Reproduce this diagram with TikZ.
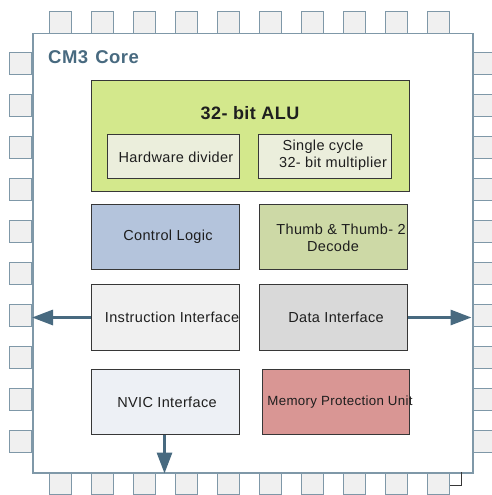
\documentclass[tikz,border=0pt]{standalone}
\usepackage{fontspec}
\setmainfont[LetterSpace=2.5]{Liberation Sans}
\usetikzlibrary{arrows.meta}
\definecolor{pinedge}{RGB}{127,152,168}
\definecolor{pinfill}{RGB}{240,240,240}
\definecolor{slate}{RGB}{72,106,128}
\definecolor{alugreen}{RGB}{211,232,140}
\definecolor{aluinner}{RGB}{235,238,220}
\definecolor{ctrlblue}{RGB}{180,196,220}
\definecolor{thumbgreen}{RGB}{205,217,166}
\definecolor{instrgray}{RGB}{240,240,240}
\definecolor{datagray}{RGB}{217,217,217}
\definecolor{nvicblue}{RGB}{237,240,245}
\definecolor{mpured}{RGB}{217,150,148}
\definecolor{boxedge}{RGB}{55,55,55}
\definecolor{txt}{RGB}{30,30,30}
\begin{document}
\begin{tikzpicture}[x=1pt,y=-1pt,
  pin/.style={draw=pinedge,fill=pinfill,line width=1.2pt,minimum width=22pt,minimum height=22pt,inner sep=0pt,anchor=north west},
  blk/.style={draw=boxedge,line width=1pt,inner sep=0pt,anchor=north west},
  lbl/.style={text=txt,font=\fontsize{14.5}{17}\selectfont,inner sep=0pt,align=center},
  arr/.style={draw=slate,line width=3pt,-{Triangle[length=21pt,width=15pt]}}]
\useasboundingbox (0,0) rectangle (491,495);
% pins
\foreach \i in {0,...,9}{
  \node[pin] (pinT\i) at ({49+42*\i},11) {};
  \node[pin] (pinB\i) at ({49+42*\i},472) {};
  \node[pin] (pinL\i) at (9,{52+42*\i}) {};
  \node[pin] (pinR\i) at (472,{52+42*\i}) {};
}
% core
\node[draw=pinedge,fill=white,line width=1.5pt,minimum width=440pt,minimum height=439pt,inner sep=0pt,anchor=north west] (core) at (32,33) {};
\coordinate (la) at (461,472);
\coordinate (lb) at (461,485);
\coordinate (lc) at (450,485);
\draw[boxedge,line width=0.8pt] (la) -- (lb) -- (lc);
\node[anchor=west,text=slate,font=\fontsize{18.5}{20}\selectfont\bfseries,inner sep=0pt] (title) at (48,57) {CM3\hspace{1.5pt} Core};
% ALU
\node[blk,fill=alugreen,minimum width=318pt,minimum height=111pt] (alu) at (91,80) {};
\node[font=\fontsize{18}{20}\selectfont\bfseries,text=txt,inner sep=0pt] (alut) at (250,113) {32- bit ALU};
\node[blk,fill=aluinner,minimum width=132pt,minimum height=44pt] (hw) at (107,134) {};
\node[lbl] (hwt) at (176,157) {Hardware divider};
\node[blk,fill=aluinner,minimum width=133pt,minimum height=44pt] (mul) at (258,134) {};
\node[lbl] (mult1) at (323,147) {Single cycle};
\node[lbl] (mult2) at (333,164) {32- bit multiplier};
% control / thumb
\node[blk,fill=ctrlblue,minimum width=148pt,minimum height=65pt] (ctrl) at (91,204) {};
\node[lbl] (ctrlt) at (168,237) {Control Logic};
\node[blk,fill=thumbgreen,minimum width=148pt,minimum height=65pt] (thumb) at (259,204) {};
\node[lbl] (thumbt1) at (341,229) {Thumb \& Thumb- 2};
\node[lbl] (thumbt2) at (333,246) {Decode};
% interfaces
\node[blk,fill=instrgray,minimum width=148pt,minimum height=66pt] (instr) at (91,284) {};
\node[lbl] (instrt) at (172,317) {Instruction Interface};
\node[blk,fill=datagray,minimum width=148pt,minimum height=66pt] (data) at (259,284) {};
\node[lbl] (datat) at (336,317) {Data Interface};
\node[blk,fill=nvicblue,minimum width=148pt,minimum height=65pt] (nvic) at (91,369) {};
\node[lbl] (nvict) at (167,402) {NVIC Interface};
\node[blk,fill=mpured,minimum width=147pt,minimum height=65pt] (mpu) at (262,369) {};
\node[lbl,font=\fontsize{13.3}{15}\selectfont] (mput) at (340,402) {Memory Protection Unit};
% arrows
\draw[arr] (instr.west) -- (core.west |- instr.west);
\draw[arr] (data.east) -- ([xshift=-2pt]core.east |- data.east);
\draw[arr] ([xshift=-1pt]nvic.south) -- ([xshift=-1pt]nvic.south |- core.south);
\end{tikzpicture}
\end{document}
